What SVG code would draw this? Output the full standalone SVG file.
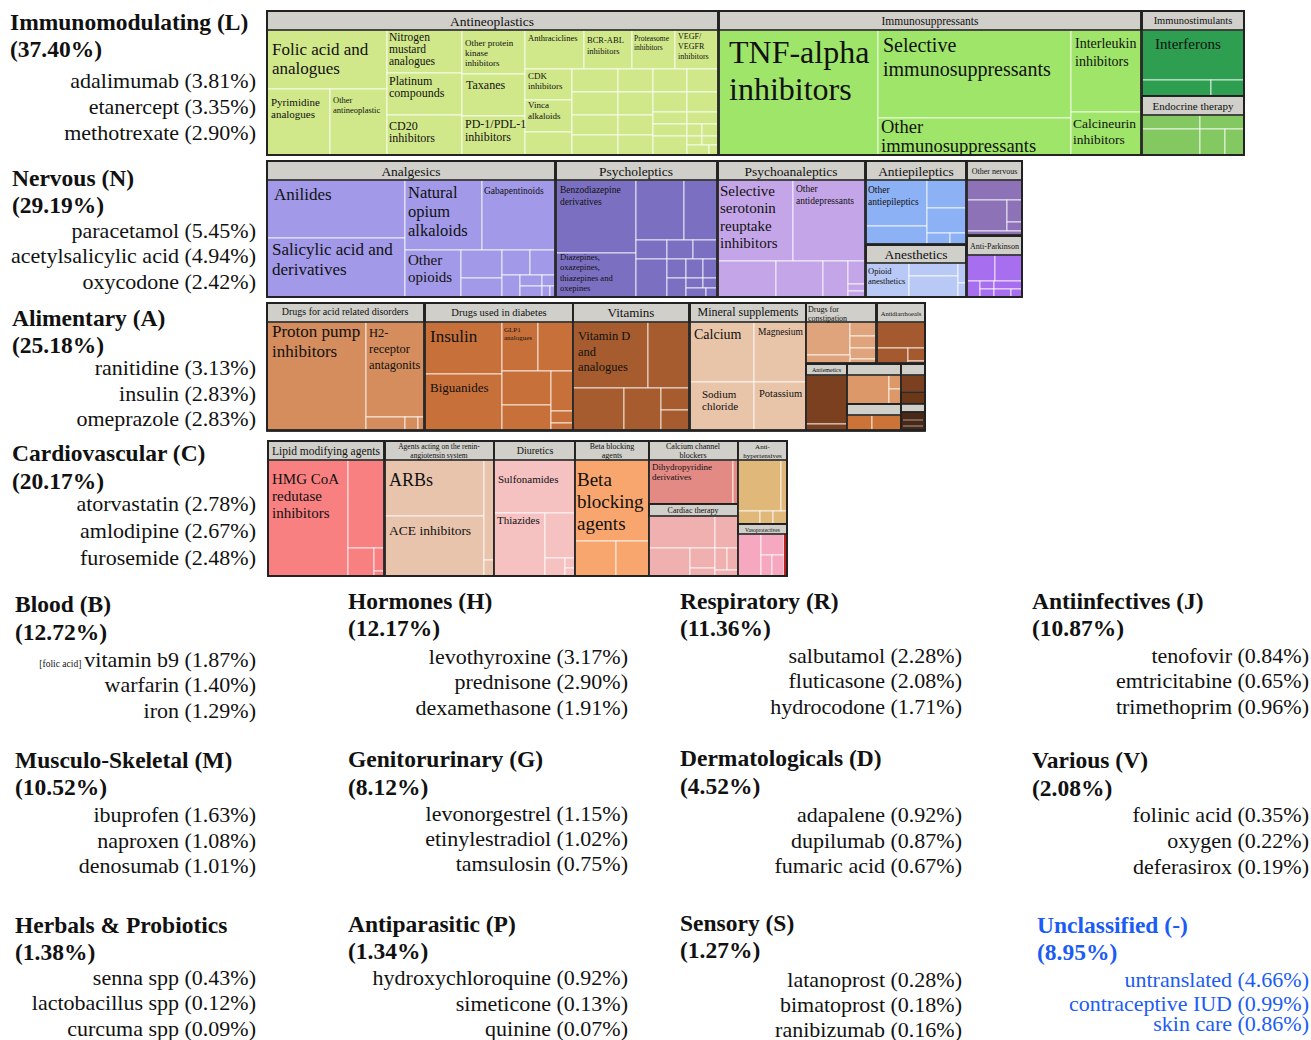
<svg xmlns="http://www.w3.org/2000/svg" width="1311" height="1040" viewBox="0 0 1311 1040">
<style>
text{font-family:"Liberation Serif","Times New Roman",serif;fill:#111}
.t{font-weight:bold;font-size:23.5px}
.i{font-size:22px;text-anchor:end}
.u{fill:#1a5cf5}
.c{stroke:#fff;stroke-width:0.9;stroke-opacity:0.85}
.h{fill:#d0cfca;stroke:#222;stroke-width:1.6}
.b{fill:none;stroke:#222;stroke-width:1.8}
.m{text-anchor:middle}
</style>
<rect width="1311" height="1040" fill="#fff"/>

<!-- ===== Row L ===== -->
<g id="L-antineoplastics" fill="#d1e88a">
<rect class="c" x="267" y="30" width="120" height="59"/>
<rect class="c" x="267" y="89" width="63" height="66"/>
<rect class="c" x="330" y="89" width="57" height="66"/>
<rect class="c" x="387" y="30" width="75" height="43"/>
<rect class="c" x="387" y="73" width="75" height="42"/>
<rect class="c" x="387" y="115" width="75" height="40"/>
<rect class="c" x="462" y="30" width="63" height="44"/>
<rect class="c" x="462" y="74" width="63" height="42"/>
<rect class="c" x="462" y="116" width="63" height="39"/>
<rect class="c" x="525" y="30" width="59" height="39"/>
<rect class="c" x="584" y="30" width="48" height="39"/>
<rect class="c" x="632" y="30" width="43" height="39"/>
<rect class="c" x="675" y="30" width="43" height="39"/>
<rect class="c" x="525" y="69" width="47" height="31"/>
<rect class="c" x="525" y="100" width="47" height="32"/>
<rect class="c" x="525" y="132" width="47" height="23"/>
<rect class="c" x="572" y="69" width="46" height="23"/>
<rect class="c" x="572" y="92" width="46" height="23"/>
<rect class="c" x="572" y="115" width="46" height="20"/>
<rect class="c" x="572" y="135" width="46" height="20"/>
<rect class="c" x="618" y="69" width="35" height="23"/>
<rect class="c" x="618" y="92" width="35" height="23"/>
<rect class="c" x="618" y="115" width="35" height="20"/>
<rect class="c" x="618" y="135" width="35" height="20"/>
<rect class="c" x="653" y="69" width="34" height="23"/>
<rect class="c" x="653" y="92" width="34" height="20"/>
<rect class="c" x="653" y="112" width="34" height="12"/>
<rect class="c" x="653" y="124" width="34" height="12"/>
<rect class="c" x="653" y="136" width="34" height="19"/>
<rect class="c" x="687" y="69" width="31" height="23"/>
<rect class="c" x="687" y="92" width="31" height="20"/>
<rect class="c" x="687" y="112" width="31" height="12"/>
<rect class="c" x="687" y="124" width="15" height="12"/>
<rect class="c" x="702" y="124" width="16" height="12"/>
<rect class="c" x="687" y="136" width="15" height="9"/>
<rect class="c" x="702" y="136" width="16" height="9"/>
<rect class="c" x="687" y="145" width="22" height="10"/>
<rect class="c" x="709" y="145" width="9" height="10"/>
<rect class="h" x="267" y="11" width="451" height="19"/>
<rect class="b" x="267" y="11" width="451" height="144"/>
<text class="m" x="492" y="26" font-size="13.5">Antineoplastics</text>
<text x="272" y="55" font-size="17">Folic acid and</text>
<text x="272" y="74" font-size="17">analogues</text>
<text x="271" y="106" font-size="11">Pyrimidine</text>
<text x="271" y="118" font-size="11">analogues</text>
<text x="333" y="103" font-size="8.5">Other</text>
<text x="333" y="113" font-size="8.5">antineoplastic</text>
<text x="389" y="41" font-size="11.5">Nitrogen</text>
<text x="389" y="53" font-size="11.5">mustard</text>
<text x="389" y="65" font-size="11.5">analogues</text>
<text x="389" y="85" font-size="12">Platinum</text>
<text x="389" y="97" font-size="12">compounds</text>
<text x="389" y="130" font-size="12">CD20</text>
<text x="389" y="142" font-size="12">inhibitors</text>
<text x="465" y="46" font-size="9">Other protein</text>
<text x="465" y="56" font-size="9">kinase</text>
<text x="465" y="66" font-size="9">inhibitors</text>
<text x="466" y="89" font-size="12">Taxanes</text>
<text x="465" y="128" font-size="12">PD-1/PDL-1</text>
<text x="465" y="141" font-size="12">inhibitors</text>
<text x="528" y="41" font-size="8.5">Anthraciclines</text>
<text x="587" y="43" font-size="8.5">BCR-ABL</text>
<text x="587" y="54" font-size="8.5">inhibitors</text>
<text x="634" y="41" font-size="7.5">Proteasome</text>
<text x="634" y="50" font-size="7.5">inhibitors</text>
<text x="678" y="39" font-size="8">VEGF/</text>
<text x="678" y="49" font-size="8">VEGFR</text>
<text x="678" y="59" font-size="8">inhibitors</text>
<text x="528" y="79" font-size="9">CDK</text>
<text x="528" y="89" font-size="9">inhibitors</text>
<text x="528" y="108" font-size="9">Vinca</text>
<text x="528" y="119" font-size="9">alkaloids</text>
</g>

<g id="L-immunosuppressants" fill="#9fe56a">
<rect class="c" x="719" y="30" width="159" height="125"/>
<rect class="c" x="878" y="30" width="193" height="88"/>
<rect class="c" x="878" y="118" width="193" height="37"/>
<rect class="c" x="1071" y="30" width="70" height="82"/>
<rect class="c" x="1071" y="112" width="70" height="43"/>
<rect class="h" x="719" y="11" width="422" height="19"/>
<rect class="b" x="719" y="11" width="422" height="144"/>
<text class="m" x="930" y="25" font-size="11.5">Immunosuppressants</text>
<text x="729" y="63" font-size="32">TNF-alpha</text>
<text x="729" y="100" font-size="32">inhibitors</text>
<text x="883" y="52" font-size="20">Selective</text>
<text x="883" y="76" font-size="20">immunosuppressants</text>
<text x="881" y="133" font-size="18.5">Other</text>
<text x="881" y="152" font-size="18.5">immunosuppressants</text>
<text x="1075" y="48" font-size="14">Interleukin</text>
<text x="1075" y="66" font-size="14">inhibitors</text>
<text x="1073" y="128" font-size="13.5">Calcineurin</text>
<text x="1073" y="144" font-size="13.5">inhibitors</text>
</g>

<g id="L-immunostimulants" fill="#2e9e50">
<rect class="c" x="1142" y="30" width="102" height="50"/>
<rect class="c" x="1142" y="80" width="69" height="16"/>
<rect class="c" x="1211" y="80" width="33" height="16"/>
<rect class="h" x="1142" y="11" width="102" height="19"/>
<rect class="b" x="1142" y="11" width="102" height="85"/>
<text class="m" x="1193" y="24" font-size="10.5">Immunostimulants</text>
<text x="1155" y="49" font-size="15">Interferons</text>
</g>

<g id="L-endocrine" fill="#84c862">
<rect class="c" x="1142" y="115" width="58" height="14"/>
<rect class="c" x="1200" y="115" width="44" height="14"/>
<rect class="c" x="1142" y="129" width="58" height="26"/>
<rect class="c" x="1200" y="129" width="25" height="26"/>
<rect class="c" x="1225" y="129" width="19" height="26"/>
<rect class="h" x="1142" y="96" width="102" height="19"/>
<rect class="b" x="1142" y="96" width="102" height="59"/>
<text class="m" x="1193" y="110" font-size="11">Endocrine therapy</text>
</g>
<rect class="b" x="267" y="11" width="977" height="144" stroke-width="2.2"/>

<!-- ===== Row N ===== -->
<g id="N-analgesics" fill="#a29ae8">
<rect class="c" x="267" y="180" width="138" height="58"/>
<rect class="c" x="267" y="238" width="138" height="59"/>
<rect class="c" x="405" y="180" width="77" height="70"/>
<rect class="c" x="482" y="180" width="73" height="70"/>
<rect class="c" x="405" y="250" width="56" height="47"/>
<rect class="c" x="461" y="250" width="41" height="28"/>
<rect class="c" x="461" y="278" width="41" height="19"/>
<rect class="c" x="502" y="250" width="28" height="25"/>
<rect class="c" x="530" y="250" width="25" height="25"/>
<rect class="c" x="502" y="275" width="18" height="22"/>
<rect class="c" x="520" y="275" width="22" height="11"/>
<rect class="c" x="542" y="275" width="13" height="11"/>
<rect class="c" x="520" y="286" width="22" height="11"/>
<rect class="c" x="542" y="286" width="8" height="11"/>
<rect class="c" x="550" y="286" width="5" height="11"/>
<rect class="h" x="267" y="161" width="288" height="19"/>
<rect class="b" x="267" y="161" width="288" height="136"/>
<text class="m" x="411" y="176" font-size="13.5">Analgesics</text>
<text x="274" y="200" font-size="17">Anilides</text>
<text x="272" y="255" font-size="17">Salicylic acid and</text>
<text x="272" y="275" font-size="17">derivatives</text>
<text x="408" y="198" font-size="16.5">Natural</text>
<text x="408" y="217" font-size="16.5">opium</text>
<text x="408" y="236" font-size="16.5">alkaloids</text>
<text x="484" y="194" font-size="9.5">Gabapentinoids</text>
<text x="408" y="265" font-size="15">Other</text>
<text x="408" y="282" font-size="15">opioids</text>
</g>

<g id="N-psycholeptics" fill="#7a6fc0">
<rect class="c" x="556" y="180" width="80" height="73"/>
<rect class="c" x="556" y="253" width="80" height="44"/>
<rect class="c" x="636" y="180" width="48" height="60"/>
<rect class="c" x="684" y="180" width="33" height="60"/>
<rect class="c" x="636" y="240" width="31" height="19"/>
<rect class="c" x="667" y="240" width="26" height="19"/>
<rect class="c" x="693" y="240" width="24" height="19"/>
<rect class="c" x="636" y="259" width="31" height="38"/>
<rect class="c" x="667" y="259" width="19" height="19"/>
<rect class="c" x="686" y="259" width="17" height="19"/>
<rect class="c" x="703" y="259" width="14" height="19"/>
<rect class="c" x="667" y="278" width="19" height="19"/>
<rect class="c" x="686" y="278" width="17" height="10"/>
<rect class="c" x="703" y="278" width="14" height="10"/>
<rect class="c" x="686" y="288" width="20" height="9"/>
<rect class="c" x="706" y="288" width="11" height="9"/>
<rect class="h" x="556" y="161" width="161" height="19"/>
<rect class="b" x="556" y="161" width="161" height="136"/>
<text class="m" x="636" y="176" font-size="13.5">Psycholeptics</text>
<text x="560" y="193" font-size="9.5">Benzodiazepine</text>
<text x="560" y="205" font-size="9.5">derivatives</text>
<text x="560" y="260" font-size="8.5">Diazepines,</text>
<text x="560" y="270" font-size="8.5">oxazepines,</text>
<text x="560" y="281" font-size="8.5">thiazepines and</text>
<text x="560" y="291" font-size="8.5">oxepines</text>
</g>

<g id="N-psychoanaleptics" fill="#c4a6e8">
<rect class="c" x="718" y="180" width="75" height="81"/>
<rect class="c" x="793" y="180" width="72" height="81"/>
<rect class="c" x="718" y="261" width="58" height="36"/>
<rect class="c" x="776" y="261" width="47" height="36"/>
<rect class="c" x="823" y="261" width="25" height="36"/>
<rect class="c" x="848" y="261" width="17" height="23"/>
<rect class="c" x="848" y="284" width="17" height="7"/>
<rect class="c" x="848" y="291" width="17" height="6"/>
<rect class="h" x="718" y="161" width="147" height="19"/>
<rect class="b" x="718" y="161" width="147" height="136"/>
<text class="m" x="791" y="176" font-size="13.5">Psychoanaleptics</text>
<text x="720" y="196" font-size="15">Selective</text>
<text x="720" y="213" font-size="15">serotonin</text>
<text x="720" y="231" font-size="15">reuptake</text>
<text x="720" y="248" font-size="15">inhibitors</text>
<text x="796" y="192" font-size="9.5">Other</text>
<text x="796" y="204" font-size="9.5">antidepressants</text>
</g>

<g id="N-antiepileptics" fill="#8cb1f5">
<rect class="c" x="866" y="180" width="61" height="46"/>
<rect class="c" x="866" y="226" width="61" height="18"/>
<rect class="c" x="927" y="180" width="39" height="28"/>
<rect class="c" x="927" y="208" width="39" height="25"/>
<rect class="c" x="927" y="233" width="23" height="11"/>
<rect class="c" x="950" y="233" width="16" height="11"/>
<rect class="h" x="866" y="161" width="100" height="19"/>
<rect class="b" x="866" y="161" width="100" height="83"/>
<text class="m" x="916" y="176" font-size="13.5">Antiepileptics</text>
<text x="868" y="193" font-size="9.5">Other</text>
<text x="868" y="205" font-size="9.5">antiepileptics</text>
</g>

<g id="N-anesthetics" fill="#b9c9f5">
<rect class="c" x="866" y="263" width="43" height="34"/>
<rect class="c" x="909" y="263" width="49" height="13"/>
<rect class="c" x="909" y="276" width="49" height="21"/>
<rect class="c" x="958" y="263" width="8" height="20"/>
<rect class="c" x="958" y="283" width="8" height="14"/>
<rect class="h" x="866" y="245" width="100" height="18"/>
<rect class="b" x="866" y="245" width="100" height="52"/>
<text class="m" x="916" y="259" font-size="13.5">Anesthetics</text>
<text x="868" y="274" font-size="8.5">Opioid</text>
<text x="868" y="284" font-size="8.5">anesthetics</text>
</g>

<g id="N-other-nervous" fill="#8d72b8">
<rect class="c" x="967" y="180" width="55" height="20"/>
<rect class="c" x="967" y="200" width="40" height="31"/>
<rect class="c" x="1007" y="200" width="15" height="22"/>
<rect class="c" x="1007" y="222" width="15" height="9"/>
<rect class="c" x="967" y="231" width="55" height="4"/>
<rect class="h" x="967" y="161" width="55" height="19"/>
<rect class="b" x="967" y="161" width="55" height="74"/>
<text class="m" x="994.5" y="174" font-size="8">Other nervous</text>
</g>

<g id="N-anti-parkinson" fill="#a86ef0">
<rect class="c" x="967" y="255" width="28" height="26"/>
<rect class="c" x="995" y="255" width="27" height="26"/>
<rect class="c" x="967" y="281" width="13" height="16"/>
<rect class="c" x="980" y="281" width="14" height="8"/>
<rect class="c" x="994" y="281" width="28" height="8"/>
<rect class="c" x="980" y="289" width="14" height="8"/>
<rect class="c" x="994" y="289" width="17" height="8"/>
<rect class="c" x="1011" y="289" width="11" height="8"/>
<rect class="h" x="967" y="236" width="55" height="19"/>
<rect class="b" x="967" y="236" width="55" height="61"/>
<text class="m" x="994.5" y="249" font-size="8">Anti-Parkinson</text>
</g>
<rect class="b" x="267" y="161" width="755" height="136" stroke-width="2.2"/>

<!-- ===== Row A ===== -->
<g id="A-acid" fill="#d58d5e">
<rect class="c" x="267" y="322" width="99" height="108"/>
<rect class="c" x="366" y="322" width="58" height="95"/>
<rect class="c" x="366" y="417" width="39" height="13"/>
<rect class="c" x="405" y="417" width="13" height="13"/>
<rect class="c" x="418" y="417" width="6" height="13"/>
<rect class="h" x="267" y="303" width="157" height="19"/>
<rect class="b" x="267" y="303" width="157" height="127"/>
<text class="m" x="345" y="315" font-size="10">Drugs for acid related disorders</text>
<text x="272" y="337" font-size="17">Proton pump</text>
<text x="272" y="357" font-size="17">inhibitors</text>
<text x="369" y="337" font-size="12.5">H2-</text>
<text x="369" y="353" font-size="12.5">receptor</text>
<text x="369" y="369" font-size="12.5">antagonits</text>
</g>

<g id="A-diabetes" fill="#c8703a">
<rect class="c" x="425" y="322" width="77" height="52"/>
<rect class="c" x="425" y="374" width="77" height="56"/>
<rect class="c" x="502" y="322" width="36" height="49"/>
<rect class="c" x="538" y="322" width="35" height="49"/>
<rect class="c" x="502" y="371" width="49" height="34"/>
<rect class="c" x="502" y="405" width="49" height="25"/>
<rect class="c" x="551" y="371" width="22" height="40"/>
<rect class="c" x="551" y="411" width="22" height="12"/>
<rect class="c" x="551" y="423" width="22" height="7"/>
<rect class="h" x="425" y="303" width="148" height="19"/>
<rect class="b" x="425" y="303" width="148" height="127"/>
<text class="m" x="499" y="316" font-size="10.5">Drugs used in diabetes</text>
<text x="430" y="342" font-size="17">Insulin</text>
<text x="430" y="392" font-size="13">Biguanides</text>
<text x="504" y="332" font-size="7">GLP1</text>
<text x="504" y="340" font-size="7">analogues</text>
</g>

<g id="A-vitamins" fill="#a65c2e">
<rect class="c" x="573" y="322" width="75" height="66"/>
<rect class="c" x="648" y="322" width="41" height="66"/>
<rect class="c" x="573" y="388" width="51" height="42"/>
<rect class="c" x="624" y="388" width="37" height="42"/>
<rect class="c" x="661" y="388" width="28" height="22"/>
<rect class="c" x="661" y="410" width="28" height="20"/>
<rect class="h" x="573" y="303" width="116" height="19"/>
<rect class="b" x="573" y="303" width="116" height="127"/>
<text class="m" x="631" y="317" font-size="13">Vitamins</text>
<text x="578" y="340" font-size="12.5">Vitamin D</text>
<text x="578" y="356" font-size="12.5">and</text>
<text x="578" y="371" font-size="12.5">analogues</text>
</g>

<g id="A-minerals" fill="#e8c4a8">
<rect class="c" x="690" y="322" width="64" height="60"/>
<rect class="c" x="754" y="322" width="52" height="60"/>
<rect class="c" x="690" y="382" width="64" height="48"/>
<rect class="c" x="754" y="382" width="52" height="48"/>
<rect class="h" x="690" y="303" width="116" height="19"/>
<rect class="b" x="690" y="303" width="116" height="127"/>
<text class="m" x="748" y="316" font-size="12">Mineral supplements</text>
<text x="694" y="339" font-size="14">Calcium</text>
<text x="758" y="335" font-size="9.5">Magnesium</text>
<text x="702" y="398" font-size="11">Sodium</text>
<text x="702" y="410" font-size="11">chloride</text>
<text x="759" y="397" font-size="10.5">Potassium</text>
</g>

<g id="A-constipation" fill="#e0a47c">
<rect class="c" x="806" y="322" width="44" height="33"/>
<rect class="c" x="850" y="322" width="26" height="14"/>
<rect class="c" x="850" y="336" width="26" height="12"/>
<rect class="c" x="850" y="348" width="26" height="11"/>
<rect class="c" x="806" y="355" width="44" height="8"/>
<rect class="c" x="850" y="359" width="26" height="4"/>
<rect class="h" x="806" y="303" width="70" height="19"/>
<rect class="b" x="806" y="303" width="70" height="60"/>
<text x="808" y="312" font-size="8">Drugs for</text>
<text x="808" y="320.5" font-size="8">constipation</text>
</g>

<g id="A-antidiarrhoeals" fill="#a45a2e">
<rect class="c" x="877" y="322" width="48" height="26"/>
<rect class="c" x="877" y="348" width="31" height="15"/>
<rect class="c" x="908" y="348" width="17" height="13"/>
<rect class="c" x="908" y="361" width="17" height="2"/>
<rect class="h" x="877" y="303" width="48" height="19"/>
<rect class="b" x="877" y="303" width="48" height="60"/>
<text class="m" x="901" y="316" font-size="6.5">Antidiarrhoeals</text>
</g>

<g id="A-antiemetics" fill="#7a4020">
<rect class="c" x="806" y="375" width="41" height="49"/>
<rect class="c" x="806" y="424" width="41" height="6"/>
<rect class="h" x="806" y="364" width="41" height="11"/>
<rect class="b" x="806" y="364" width="41" height="66"/>
<text class="m" x="826.5" y="372" font-size="6">Antiemetics</text>
</g>

<g id="A-other-1" fill="#dc9868">
<rect class="c" x="847" y="375" width="42" height="29"/>
<rect class="c" x="889" y="375" width="12" height="14"/>
<rect class="c" x="889" y="389" width="12" height="15"/>
<rect class="h" x="847" y="364" width="54" height="11"/>
<rect class="b" x="847" y="364" width="54" height="40"/>
</g>

<g id="A-other-2" fill="#cc7438">
<rect class="c" x="847" y="415" width="25" height="15"/>
<rect class="c" x="872" y="415" width="29" height="15"/>
<rect class="h" x="847" y="404" width="54" height="11"/>
<rect class="b" x="847" y="404" width="54" height="26"/>
</g>

<g id="A-other-3" fill="#7a4020">
<rect class="c" x="901" y="375" width="24" height="17"/>
<rect x="901" y="392" width="24" height="12" fill="#6a3818" stroke="#222" stroke-width="1.4"/>
<rect class="h" x="901" y="364" width="24" height="11"/>
<rect class="h" x="901" y="404" width="24" height="8"/>
<rect x="901" y="412" width="24" height="18" fill="#4a2818" stroke="#222" stroke-width="1.4"/>
<line x1="903" y1="420" x2="923" y2="420" stroke="#bbb" stroke-width="0.8"/>
<line x1="903" y1="426" x2="923" y2="426" stroke="#bbb" stroke-width="0.8"/>
<rect class="b" x="901" y="364" width="24" height="66"/>
</g>
<rect class="b" x="267" y="303" width="658" height="128" stroke-width="2.2"/>

<!-- ===== Row C ===== -->
<g id="C-lipid" fill="#f98080">
<rect class="c" x="268" y="460" width="80" height="116"/>
<rect class="c" x="348" y="460" width="36" height="88"/>
<rect class="c" x="348" y="548" width="26" height="28"/>
<rect class="c" x="374" y="548" width="10" height="23"/>
<rect class="c" x="374" y="571" width="10" height="5"/>
<rect class="h" x="268" y="441" width="116" height="19"/>
<rect class="b" x="268" y="441" width="116" height="135"/>
<text class="m" x="326" y="455" font-size="11.5">Lipid modifying agents</text>
<text x="272" y="484" font-size="15">HMG CoA</text>
<text x="272" y="501" font-size="15">redutase</text>
<text x="272" y="518" font-size="15">inhibitors</text>
</g>

<g id="C-renin" fill="#e8c4ad">
<rect class="c" x="385" y="460" width="99" height="56"/>
<rect class="c" x="385" y="516" width="99" height="60"/>
<rect class="c" x="484" y="460" width="10" height="100"/>
<rect class="c" x="484" y="560" width="10" height="16"/>
<rect class="h" x="385" y="441" width="109" height="19"/>
<rect class="b" x="385" y="441" width="109" height="135"/>
<text class="m" x="439" y="449" font-size="7.5">Agents acting on the renin-</text>
<text class="m" x="439" y="458" font-size="7.5">angiotensin system</text>
<text x="389" y="486" font-size="18">ARBs</text>
<text x="389" y="535" font-size="13.5">ACE inhibitors</text>
</g>

<g id="C-diuretics" fill="#f5c1c1">
<rect class="c" x="494" y="460" width="81" height="53"/>
<rect class="c" x="494" y="513" width="51" height="63"/>
<rect class="c" x="545" y="513" width="30" height="45"/>
<rect class="c" x="545" y="558" width="20" height="18"/>
<rect class="c" x="565" y="558" width="10" height="10"/>
<rect class="c" x="565" y="568" width="10" height="8"/>
<rect class="h" x="494" y="441" width="81" height="19"/>
<rect class="b" x="494" y="441" width="81" height="135"/>
<text class="m" x="535" y="454" font-size="10">Diuretics</text>
<text x="498" y="483" font-size="11">Sulfonamides</text>
<text x="497" y="524" font-size="11">Thiazides</text>
</g>

<g id="C-beta" fill="#f8a66e">
<rect class="c" x="575" y="460" width="74" height="81"/>
<rect class="c" x="575" y="541" width="41" height="35"/>
<rect class="c" x="616" y="541" width="33" height="35"/>
<rect class="h" x="575" y="441" width="74" height="19"/>
<rect class="b" x="575" y="441" width="74" height="135"/>
<text class="m" x="612" y="449" font-size="8">Beta blocking</text>
<text class="m" x="612" y="458" font-size="8">agents</text>
<text x="577" y="486" font-size="19">Beta</text>
<text x="577" y="508" font-size="19">blocking</text>
<text x="577" y="530" font-size="19">agents</text>
</g>

<g id="C-ccb" fill="#e48a84">
<rect class="c" x="649" y="460" width="84" height="44"/>
<rect class="c" x="733" y="460" width="5" height="44"/>
<rect class="h" x="649" y="441" width="89" height="19"/>
<rect class="b" x="649" y="441" width="89" height="63"/>
<text class="m" x="693" y="449" font-size="8">Calcium channel</text>
<text class="m" x="693" y="458" font-size="8">blockers</text>
<text x="652" y="470" font-size="9">Dihydropyridine</text>
<text x="652" y="480" font-size="9">derivatives</text>
</g>

<g id="C-cardiac" fill="#f0b0b0">
<rect class="c" x="649" y="516" width="66" height="32"/>
<rect class="c" x="715" y="516" width="23" height="32"/>
<rect class="c" x="649" y="548" width="41" height="28"/>
<rect class="c" x="690" y="548" width="25" height="20"/>
<rect class="c" x="690" y="568" width="25" height="8"/>
<rect class="c" x="715" y="548" width="12" height="22"/>
<rect class="c" x="727" y="548" width="11" height="22"/>
<rect class="c" x="715" y="570" width="23" height="6"/>
<rect class="h" x="649" y="504" width="89" height="12"/>
<rect class="b" x="649" y="504" width="89" height="72"/>
<text class="m" x="693" y="513" font-size="8">Cardiac therapy</text>
</g>

<g id="C-antihypertensives" fill="#e0b87a">
<rect class="c" x="738" y="460" width="43" height="51"/>
<rect class="c" x="781" y="460" width="6" height="51"/>
<rect class="c" x="738" y="511" width="22" height="13"/>
<rect class="c" x="760" y="511" width="13" height="13"/>
<rect class="c" x="773" y="511" width="14" height="13"/>
<rect class="h" x="738" y="441" width="49" height="19"/>
<rect class="b" x="738" y="441" width="49" height="83"/>
<text class="m" x="762.5" y="449" font-size="7">Anti-</text>
<text class="m" x="762.5" y="457.5" font-size="7">hypertensives</text>
</g>

<g id="C-vasoprotectives" fill="#f5a8c0">
<rect class="c" x="738" y="534" width="23" height="42"/>
<rect class="c" x="761" y="534" width="23" height="21"/>
<rect class="c" x="761" y="555" width="11" height="21"/>
<rect class="c" x="772" y="555" width="12" height="21"/>
<rect x="784" y="534" width="3" height="42" fill="#c02020"/>
<rect class="h" x="738" y="524" width="49" height="10"/>
<rect class="b" x="738" y="524" width="49" height="52"/>
<text class="m" x="762.5" y="531.5" font-size="5.5">Vasoprotectives</text>
</g>
<rect class="b" x="268" y="441" width="519" height="135" stroke-width="2.2"/>

<!-- ===== Left labels ===== -->
<g id="label-L">
<text class="t" x="10" y="30">Immunomodulating (L)</text>
<text class="t" x="10" y="57">(37.40%)</text>
<text class="i" x="256" y="88">adalimumab (3.81%)</text>
<text class="i" x="256" y="114">etanercept (3.35%)</text>
<text class="i" x="256" y="140">methotrexate (2.90%)</text>
</g>
<g id="label-N">
<text class="t" x="12" y="186">Nervous (N)</text>
<text class="t" x="12" y="213">(29.19%)</text>
<text class="i" x="256" y="238">paracetamol (5.45%)</text>
<text class="i" x="256" y="263">acetylsalicylic acid (4.94%)</text>
<text class="i" x="256" y="289">oxycodone (2.42%)</text>
</g>
<g id="label-A">
<text class="t" x="12" y="326">Alimentary (A)</text>
<text class="t" x="12" y="353">(25.18%)</text>
<text class="i" x="256" y="375">ranitidine (3.13%)</text>
<text class="i" x="256" y="401">insulin (2.83%)</text>
<text class="i" x="256" y="426">omeprazole (2.83%)</text>
</g>
<g id="label-C">
<text class="t" x="12" y="461">Cardiovascular (C)</text>
<text class="t" x="12" y="489">(20.17%)</text>
<text class="i" x="256" y="511">atorvastatin (2.78%)</text>
<text class="i" x="256" y="538">amlodipine (2.67%)</text>
<text class="i" x="256" y="565">furosemide (2.48%)</text>
</g>

<!-- ===== Lower grid ===== -->
<g id="label-B">
<text class="t" x="15" y="612">Blood (B)</text>
<text class="t" x="15" y="640">(12.72%)</text>
<text class="i" x="256" y="667"><tspan font-size="9.5">[folic acid]</tspan><tspan dx="3">vitamin b9 (1.87%)</tspan></text>
<text class="i" x="256" y="692">warfarin (1.40%)</text>
<text class="i" x="256" y="718">iron (1.29%)</text>
</g>
<g id="label-H">
<text class="t" x="348" y="609">Hormones (H)</text>
<text class="t" x="348" y="636">(12.17%)</text>
<text class="i" x="628" y="664">levothyroxine (3.17%)</text>
<text class="i" x="628" y="689">prednisone (2.90%)</text>
<text class="i" x="628" y="715">dexamethasone (1.91%)</text>
</g>
<g id="label-R">
<text class="t" x="680" y="609">Respiratory (R)</text>
<text class="t" x="680" y="636">(11.36%)</text>
<text class="i" x="962" y="663">salbutamol (2.28%)</text>
<text class="i" x="962" y="688">fluticasone (2.08%)</text>
<text class="i" x="962" y="714">hydrocodone (1.71%)</text>
</g>
<g id="label-J">
<text class="t" x="1032" y="609">Antiinfectives (J)</text>
<text class="t" x="1032" y="636">(10.87%)</text>
<text class="i" x="1309" y="663">tenofovir (0.84%)</text>
<text class="i" x="1309" y="688">emtricitabine (0.65%)</text>
<text class="i" x="1309" y="714">trimethoprim (0.96%)</text>
</g>
<g id="label-M">
<text class="t" x="15" y="768">Musculo-Skeletal (M)</text>
<text class="t" x="15" y="795">(10.52%)</text>
<text class="i" x="256" y="822">ibuprofen (1.63%)</text>
<text class="i" x="256" y="848">naproxen (1.08%)</text>
<text class="i" x="256" y="873">denosumab (1.01%)</text>
</g>
<g id="label-G">
<text class="t" x="348" y="767">Genitorurinary (G)</text>
<text class="t" x="348" y="795">(8.12%)</text>
<text class="i" x="628" y="821">levonorgestrel (1.15%)</text>
<text class="i" x="628" y="846">etinylestradiol (1.02%)</text>
<text class="i" x="628" y="871">tamsulosin (0.75%)</text>
</g>
<g id="label-D">
<text class="t" x="680" y="766">Dermatologicals (D)</text>
<text class="t" x="680" y="794">(4.52%)</text>
<text class="i" x="962" y="822">adapalene (0.92%)</text>
<text class="i" x="962" y="848">dupilumab (0.87%)</text>
<text class="i" x="962" y="873">fumaric acid (0.67%)</text>
</g>
<g id="label-V">
<text class="t" x="1032" y="768">Various (V)</text>
<text class="t" x="1032" y="796">(2.08%)</text>
<text class="i" x="1309" y="822">folinic acid (0.35%)</text>
<text class="i" x="1309" y="848">oxygen (0.22%)</text>
<text class="i" x="1309" y="874">deferasirox (0.19%)</text>
</g>
<g id="label-HP">
<text class="t" x="15" y="933">Herbals &amp; Probiotics</text>
<text class="t" x="15" y="960">(1.38%)</text>
<text class="i" x="256" y="985">senna spp (0.43%)</text>
<text class="i" x="256" y="1010">lactobacillus spp (0.12%)</text>
<text class="i" x="256" y="1036">curcuma spp (0.09%)</text>
</g>
<g id="label-P">
<text class="t" x="348" y="932">Antiparasitic (P)</text>
<text class="t" x="348" y="959">(1.34%)</text>
<text class="i" x="628" y="985">hydroxychloroquine (0.92%)</text>
<text class="i" x="628" y="1011">simeticone (0.13%)</text>
<text class="i" x="628" y="1036">quinine (0.07%)</text>
</g>
<g id="label-S">
<text class="t" x="680" y="931">Sensory (S)</text>
<text class="t" x="680" y="958">(1.27%)</text>
<text class="i" x="962" y="987">latanoprost (0.28%)</text>
<text class="i" x="962" y="1012">bimatoprost (0.18%)</text>
<text class="i" x="962" y="1037">ranibizumab (0.16%)</text>
</g>
<g id="label-U">
<text class="t u" x="1037" y="933">Unclassified (-)</text>
<text class="t u" x="1037" y="960">(8.95%)</text>
<text class="i u" x="1309" y="987">untranslated (4.66%)</text>
<text class="i u" x="1309" y="1011">contraceptive IUD (0.99%)</text>
<text class="i u" x="1309" y="1031">skin care (0.86%)</text>
</g>
</svg>
